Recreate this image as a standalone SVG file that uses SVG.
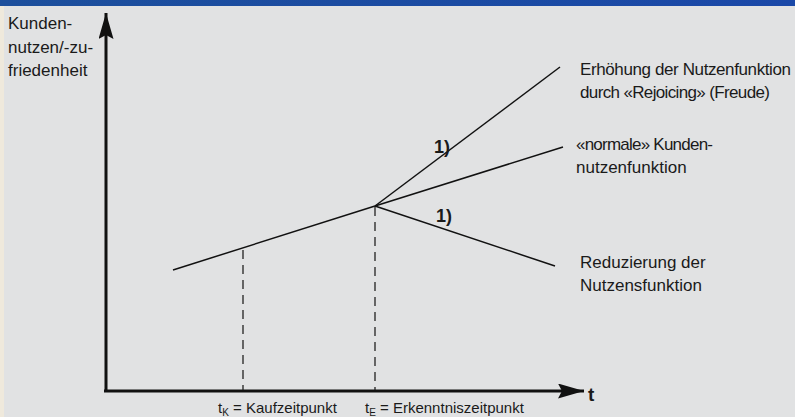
<svg xmlns="http://www.w3.org/2000/svg" width="795" height="417" viewBox="0 0 795 417">
<defs>
<linearGradient id="band" x1="0" y1="0" x2="1" y2="0">
<stop offset="0" stop-color="#1c4f9c"/>
<stop offset="1" stop-color="#1a48a8"/>
</linearGradient>
<marker id="ah" viewBox="0 0 26 15" refX="26" refY="7.5" markerWidth="26" markerHeight="15" markerUnits="userSpaceOnUse" orient="auto">
<path d="M0,0 L26,7.5 L0,15 L4,7.5 Z" fill="#111"/>
</marker>
</defs>
<style>
text{font-family:"Liberation Sans",Arial,sans-serif;font-size:17px;fill:#1a1a1a}
tspan{fill:#1a1a1a}
.b{font-weight:bold}
.s{font-size:15px}
.ln{stroke:#111;stroke-width:1.5;fill:none}
.ax{stroke:#111;stroke-width:3;fill:none}
.ds{stroke:#222;stroke-width:1.3;stroke-dasharray:9,6;fill:none}
</style>
<rect width="795" height="417" fill="#e1e2e3"/>
<rect x="0" y="0" width="4" height="417" fill="#efe9dc"/>
<rect x="0" y="0" width="795" height="6" fill="url(#band)"/>
<g id="connectors">
<line class="ax" x1="106" y1="391" x2="106" y2="13" marker-end="url(#ah)"/>
<line class="ax" x1="104" y1="391" x2="584" y2="391" marker-end="url(#ah)"/>
<line class="ln" x1="173" y1="270" x2="375" y2="206"/>
<line class="ln" x1="375" y1="206" x2="560" y2="67"/>
<line class="ln" x1="375" y1="206" x2="563" y2="147"/>
<line class="ln" x1="375" y1="206" x2="555" y2="266"/>
<line class="ds" x1="243" y1="250" x2="243" y2="390"/>
<line class="ds" x1="375" y1="207" x2="375" y2="390"/>
</g>
<g id="y-label">
<text x="8" y="29">Kunden-</text>
<text x="8" y="53">nutzen/-zu-</text>
<text x="8" y="76">friedenheit</text>
</g>
<g id="x-label"><text class="b" x="588" y="401" style="font-size:19px">t</text></g>
<g id="label-rejoicing">
<text x="580" y="75" textLength="211">Erhöhung der Nutzenfunktion</text>
<text x="580" y="98" textLength="190">durch «Rejoicing» (Freude)</text>
</g>
<g id="label-normal">
<text x="576" y="150" textLength="137">«normale» Kunden-</text>
<text x="576" y="173">nutzenfunktion</text>
</g>
<g id="label-reduz">
<text x="580" y="268">Reduzierung der</text>
<text x="580" y="291">Nutzensfunktion</text>
</g>
<g id="mark1"><text class="b" x="434" y="153" style="font-size:18px">1)</text></g>
<g id="mark2"><text class="b" x="436" y="222" style="font-size:18px">1)</text></g>
<g id="tK"><text class="s" x="218" y="413">t<tspan dy="3" style="font-size:10px">K</tspan><tspan dy="-3"> = Kaufzeitpunkt</tspan></text></g>
<g id="tE"><text class="s" x="365" y="413">t<tspan dy="3" style="font-size:10px">E</tspan><tspan dy="-3"> = Erkenntniszeitpunkt</tspan></text></g>
</svg>
